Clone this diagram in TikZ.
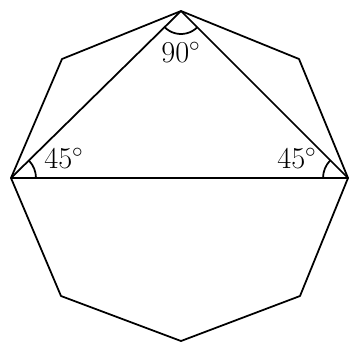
\documentclass[tikz,border=0pt]{standalone}
\begin{document}
\begin{tikzpicture}[x=0.02cm,y=0.02cm,
  edge/.style={line width=1pt,line join=round},
  lbl/.style={font=\fontsize{17}{20}\selectfont,inner sep=0pt}]
\useasboundingbox (0,0) rectangle (350,343);
\coordinate (T) at (181,332);
\coordinate (TR) at (299,284);
\coordinate (R) at (348,165);
\coordinate (BR) at (300,47);
\coordinate (B) at (181,2);
\coordinate (BL) at (61,47);
\coordinate (L) at (11,165);
\coordinate (TL) at (62,284);
\draw[edge] (T) -- (TR) -- (R) -- (BR) -- (B) -- (BL) -- (L) -- (TL) -- cycle;
\draw[edge] (L) -- (T) -- (R) -- cycle;
% angle arcs
\draw[edge] (L) ++(0:25) arc[start angle=0,end angle=44.5,radius=25];
\draw[edge] (R) ++(180:25) arc[start angle=180,end angle=135,radius=25];
\draw[edge] (T) ++(224.5:23) arc[start angle=224.5,end angle=315,radius=23];
% labels
\node[lbl] (a90) at (181,291) {$90^\circ$};
\node[lbl] (a45l) at (64,185) {$45^\circ$};
\node[lbl] (a45r) at (297,185) {$45^\circ$};
\end{tikzpicture}
\end{document}
